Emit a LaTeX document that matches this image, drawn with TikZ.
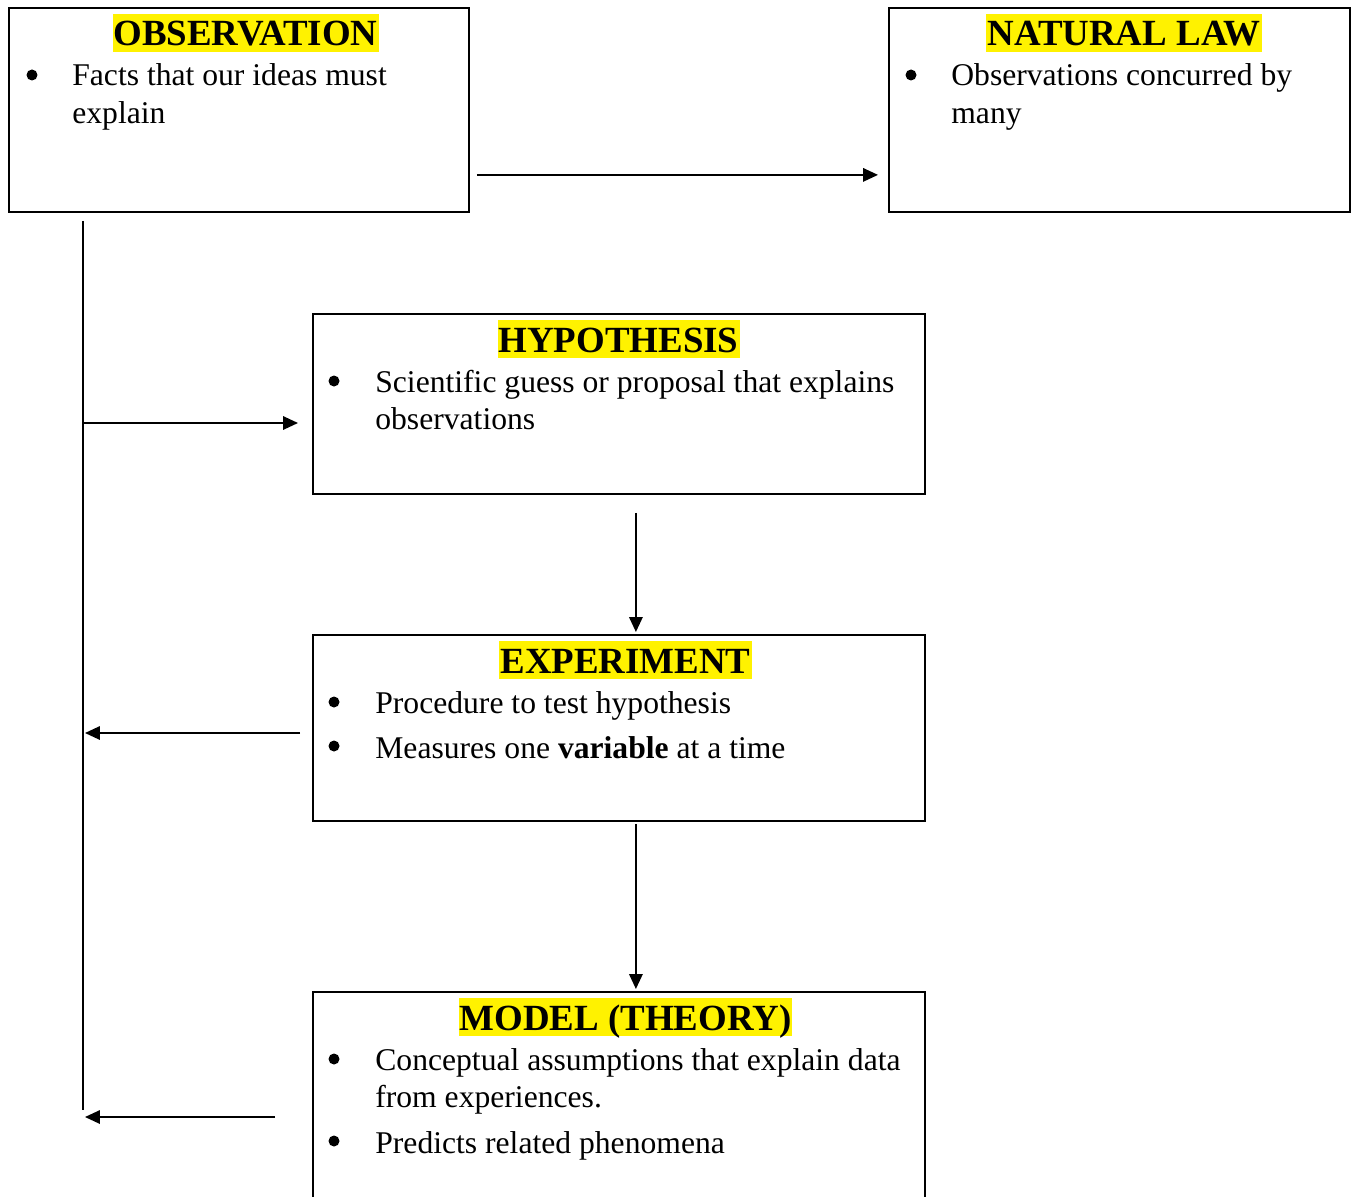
\documentclass[tikz,border=0pt]{standalone}
\usepackage{fontspec}
\setmainfont{Liberation Serif}
\usetikzlibrary{arrows.meta,calc}

\newcommand{\itemlines}[1]{\begin{tabular}[t]{@{}l@{}}#1\end{tabular}}

\tikzset{
  box/.style={rectangle, draw, line width=1.1pt, inner sep=0pt, anchor=north west},
  title/.style={fill=yellow, inner xsep=0.6pt, inner ysep=0pt, text height=18pt, text depth=3.4pt,
                anchor=base, font=\fontsize{21}{25}\selectfont\bfseries},
  item/.style={inner sep=0pt, anchor=base west, font=\fontsize{18}{21.55}\selectfont},
  dot/.style={circle, fill, inner sep=0pt, minimum size=0.22cm},
  line/.style={line width=1pt},
  arr/.style={line width=1pt, -{Triangle[length=0.3cm,width=0.27cm]}}
}

\begin{document}
\begin{tikzpicture}[x=0.02cm, y=-0.02cm]
    \useasboundingbox (0,0) rectangle (1354,1196);

    % boxes
    \node (obs) [box, minimum width=9.2cm, minimum height=4.08cm] at (8,7) {};
    \node (law) [box, minimum width=9.22cm, minimum height=4.08cm] at (888,7) {};
    \node (hyp) [box, minimum width=12.24cm, minimum height=3.6cm] at (312,313) {};
    \node (exp) [box, minimum width=12.24cm, minimum height=3.72cm] at (312,634) {};
    \node (model) [box, minimum width=12.24cm, minimum height=4.8cm] at (312,991) {};

    % titles
    \node (obsT) [title] at (245.5,46) {OBSERVATION};
    \node (lawT) [title] at (1124,46) {NATURAL LAW};
    \node (hypT) [title] at (618.5,352) {HYPOTHESIS};
    \node (expT) [title] at (625.5,673) {EXPERIMENT};
    \node (modelT) [title] at (625.5,1030) {MODEL (THEORY)};

    % bullet points
    \node (obsB1) [dot] at (32,75) {};
    \node (obsI1) [item] at (72,86) {\itemlines{Facts that our ideas must\\explain}};
    \node (lawB1) [dot] at (911,75) {};
    \node (lawI1) [item] at (951,86) {\itemlines{Observations concurred by\\many}};
    \node (hypB1) [dot] at (334,381) {};
    \node (hypI1) [item] at (375,392) {\itemlines{Scientific guess or proposal that explains\\observations}};
    \node (expB1) [dot] at (334,702) {};
    \node (expI1) [item] at (375,713) {Procedure to test hypothesis};
    \node (expB2) [dot] at (334,746) {};
    \node (expI2) [item] at (375,758) {Measures one \textbf{variable} at a time};
    \node (modelB1) [dot] at (334,1059) {};
    \node (modelI1) [item] at (375,1070) {\itemlines{Conceptual assumptions that explain data\\from experiences.}};
    \node (modelB2) [dot] at (334,1141) {};
    \node (modelI2) [item] at (375,1153) {Predicts related phenomena};

    % connectors
    \coordinate (spine) at ($(obs.south west)+(75,8)$);
    \coordinate (spineEnd) at ($(model.north west)+(-229,119)$);
    \coordinate (hypIn) at ($(hyp.north west)+(-14,110)$);
    \coordinate (expOut) at ($(exp.north west)+(-12,99)$);
    \coordinate (modelOut) at ($(model.north west)+(-37,126)$);

    \draw [arr] ($(obs.south east)+(7,-38)$) -- ($(law.south west)+(-10,-38)$);
    \draw [line] (spine) -- (spineEnd);
    \draw [arr] (spine |- hypIn) -- (hypIn);
    \draw [arr] (expOut) -- ([xshift=0.04cm]spine |- expOut);
    \draw [arr] (modelOut) -- ([xshift=0.04cm]spine |- modelOut);
    \draw [arr] ($(hyp.south)+(17,18)$) -- ($(exp.north)+(17,-2)$);
    \draw [arr] ($(exp.south)+(17,2)$) -- ($(model.north)+(17,-2)$);
\end{tikzpicture}
\end{document}
